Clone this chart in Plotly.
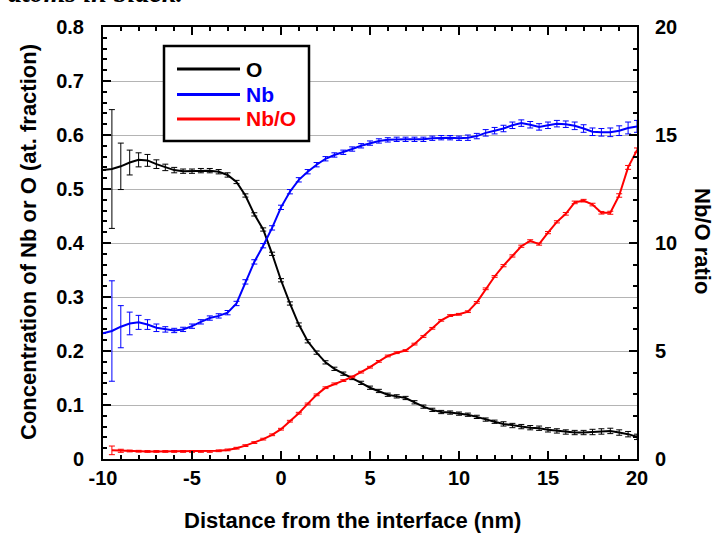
import plotly.graph_objects as go

# ---------------- data ----------------
distance_nm = [-10 + 0.5 * i for i in range(61)]

conc_O = [0.535, 0.537, 0.542, 0.549, 0.554, 0.553, 0.546, 0.540, 0.535, 0.533,
          0.533, 0.534, 0.534, 0.532, 0.526, 0.513, 0.488, 0.453, 0.425, 0.380,
          0.331, 0.288, 0.249, 0.218, 0.197, 0.179, 0.167, 0.158, 0.150, 0.141,
          0.132, 0.126, 0.119, 0.116, 0.113, 0.105, 0.097, 0.091, 0.087, 0.086,
          0.084, 0.082, 0.078, 0.073, 0.069, 0.065, 0.062, 0.060, 0.058, 0.057,
          0.054, 0.052, 0.050, 0.049, 0.049, 0.050, 0.051, 0.052, 0.049, 0.046,
          0.041]
err_O = [0.0, 0.110, 0.043, 0.023, 0.013, 0.011, 0.008, 0.006, 0.005, 0.004,
         0.004, 0.004, 0.004, 0.004, 0.004, 0.003, 0.003, 0.003, 0.003, 0.003,
         0.003, 0.003, 0.003, 0.003, 0.003, 0.003, 0.003, 0.003, 0.003, 0.003,
         0.003, 0.003, 0.003, 0.003, 0.003, 0.003, 0.003, 0.003, 0.003, 0.003,
         0.003, 0.003, 0.003, 0.003, 0.003, 0.004, 0.004, 0.004, 0.004, 0.004,
         0.004, 0.004, 0.004, 0.004, 0.004, 0.005, 0.005, 0.005, 0.005, 0.005,
         0.005]

conc_Nb = [0.233, 0.237, 0.245, 0.251, 0.253, 0.249, 0.243, 0.240, 0.238, 0.240,
           0.246, 0.254, 0.261, 0.265, 0.271, 0.288, 0.328, 0.365, 0.395, 0.428,
           0.466, 0.495, 0.517, 0.532, 0.545, 0.556, 0.563, 0.568, 0.574, 0.580,
           0.585, 0.589, 0.591, 0.592, 0.592, 0.592, 0.592, 0.594, 0.595, 0.595,
           0.594, 0.595, 0.598, 0.604, 0.608, 0.612, 0.618, 0.622, 0.619, 0.615,
           0.618, 0.621, 0.620, 0.617, 0.612, 0.606, 0.605, 0.605, 0.608, 0.613,
           0.616]
err_Nb = [0.0, 0.093, 0.039, 0.021, 0.013, 0.009, 0.007, 0.005, 0.004, 0.004,
          0.004, 0.004, 0.004, 0.004, 0.004, 0.004, 0.004, 0.004, 0.004, 0.004,
          0.004, 0.004, 0.004, 0.004, 0.004, 0.004, 0.004, 0.004, 0.004, 0.004,
          0.004, 0.004, 0.004, 0.004, 0.004, 0.004, 0.004, 0.004, 0.004, 0.004,
          0.004, 0.005, 0.005, 0.006, 0.006, 0.006, 0.006, 0.006, 0.006, 0.006,
          0.006, 0.006, 0.006, 0.007, 0.007, 0.007, 0.007, 0.008, 0.009, 0.011,
          0.011]

ratio_NbO = [None, 0.40, 0.38, 0.37, 0.36, 0.35, 0.35, 0.35, 0.35, 0.35,
             0.35, 0.35, 0.35, 0.38, 0.42, 0.50, 0.62, 0.76, 0.92, 1.12,
             1.38, 1.75, 2.12, 2.55, 2.97, 3.30, 3.48, 3.63, 3.80, 4.02,
             4.25, 4.52, 4.77, 4.92, 5.02, 5.32, 5.67, 6.05, 6.42, 6.64,
             6.70, 6.82, 7.25, 7.88, 8.45, 8.95, 9.40, 9.85, 10.10, 9.95,
             10.48, 10.98, 11.35, 11.88, 11.96, 11.78, 11.40, 11.40, 12.20, 13.50,
             14.30]
err_ratio = [0.0, 0.20, 0.07, 0.04, 0.04, 0.04, 0.04, 0.04, 0.04, 0.04,
             0.04, 0.04, 0.04, 0.04, 0.04, 0.04, 0.04, 0.04, 0.04, 0.04,
             0.04, 0.04, 0.04, 0.04, 0.04, 0.04, 0.04, 0.04, 0.04, 0.04,
             0.04, 0.04, 0.04, 0.04, 0.04, 0.04, 0.04, 0.04, 0.04, 0.04,
             0.04, 0.04, 0.04, 0.04, 0.04, 0.05, 0.05, 0.05, 0.05, 0.05,
             0.05, 0.05, 0.06, 0.06, 0.06, 0.06, 0.06, 0.07, 0.08, 0.09,
             0.10]

series_names = ["O", "Nb", "Nb/O"]
series_colors = ["#000000", "#0000ff", "#ff0000"]

x_ticks = [-10, -5, 0, 5, 10, 15, 20]
left_ticks = [0, 0.1, 0.2, 0.3, 0.4, 0.5, 0.6, 0.7, 0.8]
left_labels = ["0", "0.1", "0.2", "0.3", "0.4", "0.5", "0.6", "0.7", "0.8"]
right_ticks = [0, 5, 10, 15, 20]

# ---------------- layout helpers ----------------
W, H = 721, 533
L, R, T, B = 103, 637, 27, 459


def px_x(p):
    return (p - L) / (R - L)


def px_y(p):
    return (B - p) / (B - T)


FONT = "Liberation Sans, Arial, sans-serif"

fig = go.Figure()

fig.add_trace(go.Scatter(
    x=distance_nm, y=conc_O, mode="lines", name=series_names[0],
    line=dict(color=series_colors[0], width=2),
    error_y=dict(type="data", array=err_O, color=series_colors[0], thickness=1, width=3),
    showlegend=False))
fig.add_trace(go.Scatter(
    x=distance_nm, y=conc_Nb, mode="lines", name=series_names[1],
    line=dict(color=series_colors[1], width=2),
    error_y=dict(type="data", array=err_Nb, color=series_colors[1], thickness=1, width=3),
    showlegend=False))
fig.add_trace(go.Scatter(
    x=distance_nm, y=ratio_NbO, mode="lines", name=series_names[2], yaxis="y2",
    line=dict(color=series_colors[2], width=2),
    error_y=dict(type="data", array=err_ratio, color=series_colors[2], thickness=1, width=3),
    showlegend=False))

tickfont = dict(family=FONT, size=20, color="black", weight="bold")

fig.update_layout(
    width=W, height=H,
    margin=dict(l=L, r=W - R, t=T, b=H - B, pad=0),
    paper_bgcolor="white", plot_bgcolor="white",
    showlegend=False,
    xaxis=dict(
        range=[-10, 20], tickvals=x_ticks, ticktext=[str(v) for v in x_ticks],
        ticks="inside", ticklen=8, tickwidth=2, tickcolor="black",
        minor=dict(dtick=1, tick0=0, ticks="inside", ticklen=4, tickwidth=1.5, tickcolor="black"),
        showline=True, linewidth=2, linecolor="black", mirror="ticks",
        showgrid=False, zeroline=False, tickfont=tickfont, ticklabelstandoff=0,
    ),
    yaxis=dict(
        range=[0, 0.8], tickvals=left_ticks, ticktext=left_labels,
        ticks="inside", ticklen=8, tickwidth=2, tickcolor="black",
        minor=dict(dtick=0.02, tick0=0, ticks="inside", ticklen=4, tickwidth=1.5, tickcolor="black", showgrid=False),
        showline=True, linewidth=2, linecolor="black", mirror=False,
        showgrid=True, gridcolor="#b4b4b4", gridwidth=1, zeroline=False,
        tickfont=tickfont, ticklabelstandoff=13,
    ),
    yaxis2=dict(
        range=[0, 20], tickvals=right_ticks, ticktext=[str(v) for v in right_ticks],
        overlaying="y", side="right", anchor="x",
        ticks="inside", ticklen=8, tickwidth=2, tickcolor="black",
        minor=dict(dtick=1, tick0=0, ticks="inside", ticklen=4, tickwidth=1.5, tickcolor="black", showgrid=False),
        showline=True, linewidth=2, linecolor="black",
        showgrid=False, zeroline=False, tickfont=tickfont, ticklabelstandoff=12,
    ),
)

title_font = dict(family=FONT, size=22, color="black", weight="bold")
annotations = [
    dict(text="Distance from the interface (nm)", x=px_x(352), y=px_y(520),
         xref="paper", yref="paper", xanchor="center", yanchor="middle",
         showarrow=False, font=title_font),
    dict(text="Concentration of Nb or O (at. fraction)", x=px_x(28), y=px_y(242),
         xref="paper", yref="paper", xanchor="center", yanchor="middle",
         textangle=-90, showarrow=False, font=title_font),
    dict(text="Nb/O ratio", x=px_x(703), y=px_y(241),
         xref="paper", yref="paper", xanchor="center", yanchor="middle",
         textangle=90, showarrow=False, font=title_font),
    dict(text="atoms in black.", x=px_x(6), y=px_y(-7),
         xref="paper", yref="paper", xanchor="left", yanchor="middle",
         showarrow=False,
         font=dict(family="Liberation Serif, Times New Roman, serif", size=28,
                   color="black", weight="bold", style="italic")),
]

# custom legend
shapes = [dict(type="rect", xref="paper", yref="paper",
               x0=px_x(164), x1=px_x(309), y0=px_y(46), y1=px_y(141),
               line=dict(color="black", width=2.5), fillcolor="white", layer="above")]
legend_rows = [69, 94.5, 119]
legend_font = dict(family=FONT, size=21, weight="bold")
for name, color, yy in zip(series_names, series_colors, legend_rows):
    shapes.append(dict(type="line", xref="paper", yref="paper",
                       x0=px_x(177), x1=px_x(240), y0=px_y(yy), y1=px_y(yy),
                       line=dict(color=color, width=3), layer="above"))
    annotations.append(dict(text=name, x=px_x(244), y=px_y(yy), xref="paper", yref="paper",
                            xanchor="left", yanchor="middle", showarrow=False,
                            font=dict(legend_font, color=color)))

fig.update_layout(shapes=shapes, annotations=annotations)

fig.write_html("out.html", config={"displayModeBar": False},
               post_script="document.body.style.margin='0';")
